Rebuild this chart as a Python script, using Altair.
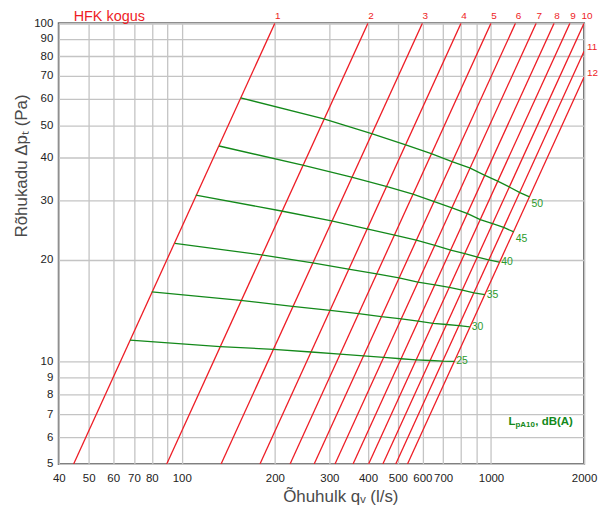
import altair as alt
import pandas as pd

FONT = "Liberation Sans"
RED = "#ee1c25"
GREEN = "#13891a"
GREEN_TXT = "#2b9a2b"

# axis ticks
x_ticks = [40, 50, 60, 70, 80, 90, 100, 200, 300, 400, 500, 600, 700, 800, 900, 1000, 2000]
y_ticks = [5, 6, 7, 8, 9, 10, 20, 30, 40, 50, 60, 70, 80, 90, 100]

# red lines (HFK sizes): endpoints
red_names = ["1", "2", "3", "4", "5", "6", "7", "8", "9", "10", "11", "12"]
red_q_low = [44.7, 89.4, 134, 179, 224, 268, 313, 358, 402, 447, 492, 537]
red_dp_low = [5, 5, 5, 5, 5, 5, 5, 5, 5, 5, 5, 5]
red_q_high = [200, 400, 600, 800, 1000, 1200, 1400, 1600, 1800, 2000, 2000, 2000]
red_dp_high = [100, 100, 100, 100, 100, 100, 100, 100, 100, 100, 82.6, 69.4]

# green lines (sound level LpA10, dB(A))
g_levels = ["50", "45", "40", "35", "30", "25"]
g50_q = [155, 288, 411, 530, 641, 748, 853, 952, 1051, 1150, 1240, 1332]
g50_p = [60.2, 52.2, 47.2, 43.7, 41.2, 39.0, 37.4, 35.6, 34.2, 32.8, 31.6, 30.7]
g45_q = [132, 246, 354, 458, 559, 652, 748, 840, 923, 1012, 1099, 1185]
g45_p = [43.4, 38.1, 35.1, 33.0, 31.3, 29.8, 28.5, 27.4, 26.3, 25.6, 24.95, 24.2]
g40_q = [111, 210, 305, 397, 488, 573, 659, 741, 823, 904, 983, 1064]
g40_p = [31.1, 27.9, 26.1, 24.7, 23.7, 22.9, 22.1, 21.4, 20.9, 20.4, 20.0, 19.7]
g35_q = [95, 181, 265, 346, 427, 504, 580, 659, 733, 808, 881, 955]
g35_p = [22.4, 20.7, 19.6, 18.8, 18.2, 17.7, 17.2, 16.9, 16.6, 16.3, 16.0, 15.8]
g30_q = [80, 155, 228, 302, 373, 442, 513, 581, 650, 719, 788, 854]
g30_p = [16.1, 15.2, 14.6, 14.2, 13.9, 13.6, 13.4, 13.2, 13.0, 12.9, 12.8, 12.7]
g25_q = [68, 133, 198, 262, 325, 387, 450, 511, 573, 636, 697, 761]
g25_p = [11.6, 11.1, 10.9, 10.7, 10.55, 10.42, 10.32, 10.22, 10.15, 10.1, 10.06, 10.04]

title_text = "HFK kogus"
x_title = "Õhuhulk qᵥ (l/s)"
y_title = "Rõhukadu Δpₜ (Pa)"
legend_main = "L"
legend_sub = "pA10"
legend_rest = ", dB(A)"
legend_q = 1139
legend_p = 6.63

# ---- build tables ----
red_rows = []
for i, n in enumerate(red_names):
    red_rows.append({"line": n, "idx": i, "q": red_q_low[i], "p": red_dp_low[i], "o": 0})
    red_rows.append({"line": n, "idx": i, "q": red_q_high[i], "p": red_dp_high[i], "o": 1})
red_df = pd.DataFrame(red_rows)
red_top = pd.DataFrame({"line": red_names, "idx": list(range(len(red_names))),
                        "q": red_q_high, "p": red_dp_high})

g_q = [g50_q, g45_q, g40_q, g35_q, g30_q, g25_q]
g_p = [g50_p, g45_p, g40_p, g35_p, g30_p, g25_p]
g_rows = []
g_end = []
for lev, qs, ps in zip(g_levels, g_q, g_p):
    for j, (q, p) in enumerate(zip(qs, ps)):
        g_rows.append({"level": lev, "q": q, "p": p, "o": j})
    g_end.append({"level": lev, "q": qs[-1], "p": ps[-1], "hi": int(lev) >= 45})
g_df = pd.DataFrame(g_rows)
g_end_df = pd.DataFrame(g_end)

xscale = alt.Scale(type="log", domain=[40, 2000], nice=False)
yscale = alt.Scale(type="log", domain=[5, 100], nice=False)

xaxis = alt.Axis(
    values=x_ticks, format="d",
    labelExpr="indexof([90, 800, 900], datum.value) >= 0 ? '' : datum.label",
    grid=True, gridColor="#c4c4c4", gridWidth=1.3, domain=False, ticks=False, tickSize=0,
    labelPadding=9, labelFontSize=11.5, labelColor="#222222", labelFont=FONT,
    labelOverlap=False, labelFlush=False,
    title=x_title, titleFont=FONT, titleFontSize=17, titleFontWeight="normal",
    titleColor="#4a4a4a", titleX=283, titleY=38, titleAlign="center", titleBaseline="alphabetic",
)
yaxis = alt.Axis(
    values=y_ticks, format="d",
    grid=True, gridColor="#c4c4c4", gridWidth=1.3, domain=False, ticks=False, tickSize=0,
    labelPadding=6, labelFontSize=11.5, labelColor="#222222", labelFont=FONT,
    labelOverlap=False, labelFlush=False,
    title=y_title, titleFont=FONT, titleFontSize=17, titleFontWeight="normal",
    titleColor="#4a4a4a", titleX=-32, titleY=143, titleAngle=270, titleAlign="center",
    titleBaseline="alphabetic",
)


def X():
    return alt.X("q:Q", scale=xscale, axis=xaxis)


def Y():
    return alt.Y("p:Q", scale=yscale, axis=yaxis)


red_lines = alt.Chart(red_df).mark_line(color=RED, strokeWidth=1.3, clip=True).encode(
    x=X(), y=Y(), detail="line:N", order="o:Q")

green_lines = alt.Chart(g_df).mark_line(color=GREEN, strokeWidth=1.3, clip=True).encode(
    x=X(), y=Y(), detail="level:N", order="o:Q")

red_top_lbl = alt.Chart(red_top).transform_filter("datum.idx < 10").mark_text(
    color=RED, font=FONT, fontSize=10, align="center", baseline="middle", dx=3, dy=-7
).encode(x=X(), y=Y(), text="line:N")

red_side_lbl = alt.Chart(red_top).transform_filter("datum.idx >= 10").mark_text(
    color=RED, font=FONT, fontSize=10, align="left", baseline="middle", dx=3, dy=-4
).encode(x=X(), y=Y(), text="line:N")

green_lbl_hi = alt.Chart(g_end_df).transform_filter("datum.hi").mark_text(
    color=GREEN_TXT, font=FONT, fontSize=10.5, align="left", baseline="middle", dx=2, dy=7
).encode(x=X(), y=Y(), text="level:N")

green_lbl_lo = alt.Chart(g_end_df).transform_filter("!datum.hi").mark_text(
    color=GREEN_TXT, font=FONT, fontSize=10.5, align="left", baseline="middle", dx=2, dy=0
).encode(x=X(), y=Y(), text="level:N")

leg_df = pd.DataFrame({"q": [legend_q], "p": [legend_p], "a": [legend_main],
                       "b": [legend_sub], "c": [legend_rest]})
leg1 = alt.Chart(leg_df).mark_text(color=GREEN, font=FONT, fontSize=11.5, fontWeight="bold",
                                   align="left", baseline="middle").encode(x=X(), y=Y(), text="a:N")
leg2 = alt.Chart(leg_df).mark_text(color=GREEN, font=FONT, fontSize=8, fontWeight="bold",
                                   align="left", baseline="middle", dx=7, dy=3).encode(x=X(), y=Y(), text="b:N")
leg3 = alt.Chart(leg_df).mark_text(color=GREEN, font=FONT, fontSize=11.5, fontWeight="bold",
                                   align="left", baseline="middle", dx=27).encode(x=X(), y=Y(), text="c:N")

title_df = pd.DataFrame({"t": [title_text]})
title = alt.Chart(title_df).mark_text(color=RED, font=FONT, fontSize=14.5, align="left",
                                      baseline="alphabetic").encode(
    x=alt.value(15), y=alt.value(-2), text="t:N")

chart = alt.layer(
    red_lines, green_lines, red_top_lbl, red_side_lbl, green_lbl_hi, green_lbl_lo,
    leg1, leg2, leg3, title
).properties(
    width=528, height=443,
    padding={"left": 51, "top": 14, "right": 16, "bottom": 42},
    autosize=alt.AutoSizeParams(type="none"),
).configure_view(stroke="#6a6a6a", strokeWidth=2)

chart.save("out.html", embed_options={"renderer": "svg", "actions": False})
